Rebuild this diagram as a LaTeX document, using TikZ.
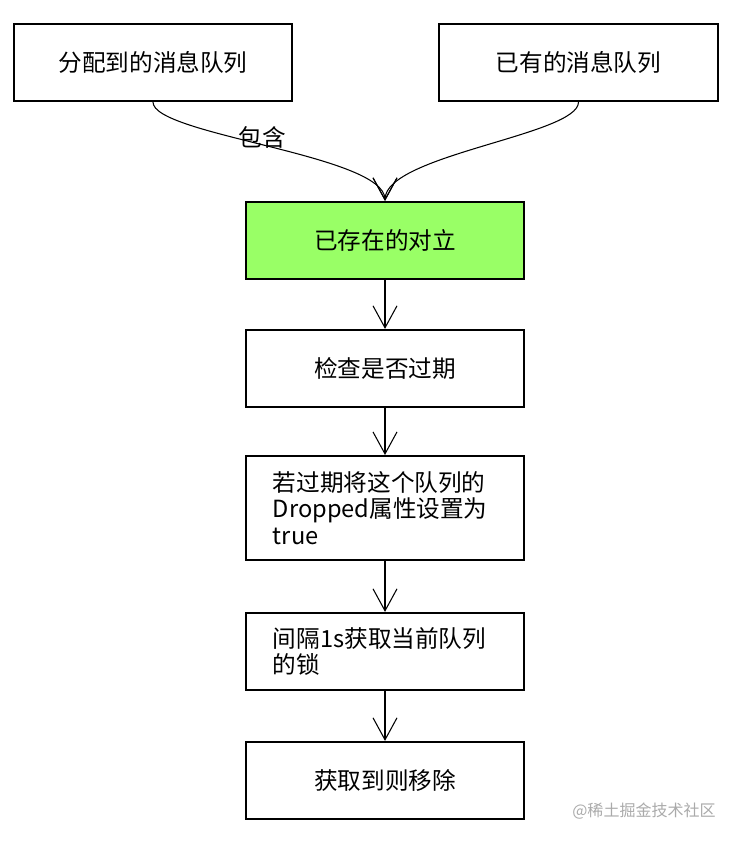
\documentclass[tikz,border=0pt]{standalone}
\usepackage{fontspec}
\newfontfamily\cjk{Noto Sans CJK SC}
\usepackage{tikz}
\usetikzlibrary{arrows.meta}
\usepackage{xcolor}
\definecolor{colExist}{RGB}{153, 255, 102}
\definecolor{colMark}{RGB}{170, 170, 170}

\begin{document}
\begin{tikzpicture}[
  x=0.025cm, y=-0.025cm,
  >={Straight Barb[length=0.55cm, width=0.6cm]},
  stepbox/.style={draw, line width=1.4pt, fill=#1, minimum width=6.95cm,
                  minimum height=1.93cm, inner sep=0pt,
                  font=\cjk\fontsize{16.8}{18.8}\selectfont},
  stepbox/.default=white,
  leftbox/.style={stepbox, text width=5.6cm, align=left},
  conn/.style={->, line width=0.75pt},
  lbl/.style={font=\cjk\fontsize{16.8}{18.8}\selectfont, inner sep=0pt}
]
\useasboundingbox (0,0) rectangle (738,842);

% ---------- Files de messages (en haut) ----------
\node[stepbox] (assigned) at (153,62.5)   {分配到的消息队列};
\node[stepbox] (owned)    at (578.5,62.5) {已有的消息队列};

% ---------- Chaîne principale ----------
\node[stepbox=colExist] (exist) at (385,240.5) {已存在的对立};
\node[stepbox] (check) at (385,368.5) {检查是否过期};
\node[leftbox, minimum height=2.6cm] (drop) at (385,508)
  {若过期将这个队列的\\Dropped属性设置为\\true};
\node[leftbox] (lock) at (385,651.5) {间隔1s获取当前队列\\的锁};
\node[stepbox] (remove) at (385,780.5) {获取到则移除};

% ---------- Courbes vers le nœud vert ----------
\draw[conn] (assigned.south) .. controls +(0,33) and +(0,-46) .. (exist.north);
\draw[conn] (owned.south) .. controls +(0,33) and +(0,-46) .. (exist.north);
\node[lbl] (contains) at (262,137) {包含};

% ---------- Flèches verticales ----------
\draw[conn] (exist) -- (check);
\draw[conn] (check) -- (drop);
\draw[conn] (drop) -- (lock);
\draw[conn] (lock) -- (remove);

% filigrane
\node[font=\cjk\fontsize{11.4}{13}\selectfont, text=colMark, anchor=east,
      inner sep=0pt] (mark) at (716,811) {@稀土掘金技术社区};

\end{tikzpicture}
\end{document}
